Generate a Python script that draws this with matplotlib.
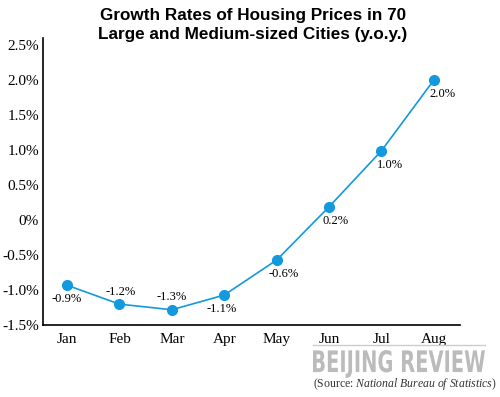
import matplotlib
matplotlib.use("Agg")
import matplotlib.pyplot as plt
from matplotlib.textpath import TextPath
from matplotlib.patches import PathPatch
from matplotlib.font_manager import FontProperties
from matplotlib.transforms import Affine2D

# Data
months = ["Jan", "Feb", "Mar", "Apr", "May", "Jun", "Jul", "Aug"]
growth = [-0.93, -1.2, -1.28, -1.07, -0.57, 0.19, 0.99, 2.0]
labels = ["-0.9%", "-1.2%", "-1.3%", "-1.1%", "-0.6%", "0.2%", "1.0%", "2.0%"]
yticks = [-1.5, -1.0, -0.5, 0, 0.5, 1.0, 1.5, 2.0, 2.5]
ytick_labels = ["-1.5%", "-1.0%", "-0.5%", "0%", "0.5%", "1.0%", "1.5%", "2.0%", "2.5%"]

plt.rcParams["mathtext.fontset"] = "custom"
plt.rcParams["mathtext.rm"] = "Liberation Serif"
plt.rcParams["mathtext.it"] = "Liberation Serif:italic"

blue = "#1399dd"
serif = "Liberation Serif"

fig = plt.figure(figsize=(5, 3.97), dpi=100)
ax = fig.add_axes([0.086, 0.181, 0.834, 0.723])

x = list(range(len(months)))
ax.plot(x, growth, color=blue, lw=1.2, marker="o", ms=7, mec=blue, mfc=blue, zorder=3)

# label offsets (points): above or below the marker
offsets = [(0, -10), (1, 9), (0, 9), (-2, -10), (5, -10), (5, -10), (6, -10), (6, -10)]
for xi, yi, lab, off in zip(x, growth, labels, offsets):
    ax.annotate(lab, (xi, yi), xytext=off, textcoords="offset points",
                ha="center", va="center", fontsize=9, family=serif)

ax.set_xlim(-0.46, 7.5)
ax.set_ylim(-1.5, 2.6)
ax.set_yticks(yticks)
ax.set_yticklabels(ytick_labels, family=serif, fontsize=11)
ax.set_xticks(x)
ax.set_xticklabels(months, family=serif, fontsize=11)
ax.tick_params(length=0, pad=6)
ax.tick_params(axis="y", pad=3)
for s in ["top", "right"]:
    ax.spines[s].set_visible(False)
for s in ["left", "bottom"]:
    ax.spines[s].set_linewidth(1.2)

fig.text(0.506, 0.962, "Growth Rates of Housing Prices in 70", ha="center", va="center",
         fontsize=12.3, fontweight="bold", family="Liberation Sans")
fig.text(0.506, 0.912, "Large and Medium-sized Cities (y.o.y.)", ha="center", va="center",
         fontsize=12.3, fontweight="bold", family="Liberation Sans")

# watermark
fig.add_artist(plt.Line2D([0.626, 0.97], [0.131, 0.131], color="#cccccc", lw=1))
fp = FontProperties(family="Liberation Sans Narrow", weight="bold")
tp = TextPath((0, 0), "BEIJING REVIEW", size=30, prop=fp)
bb = tp.get_extents()
sx = 172 / bb.width
sy = 28 / bb.height
tr = Affine2D().translate(-bb.x0, -bb.y0).scale(sx, sy).translate(313, 397 - 378)
fig.add_artist(PathPatch(tr.transform_path(tp), color="#bbbbbb", lw=0,
                         transform=None, zorder=1))

fig.text(0.994, 0.033, r"(Source: $\mathit{National\ Bureau\ of\ Statistics}$)",
         ha="right", va="center", fontsize=8.5, family=serif, color="#333333")

fig.savefig("out.png", dpi=100)
